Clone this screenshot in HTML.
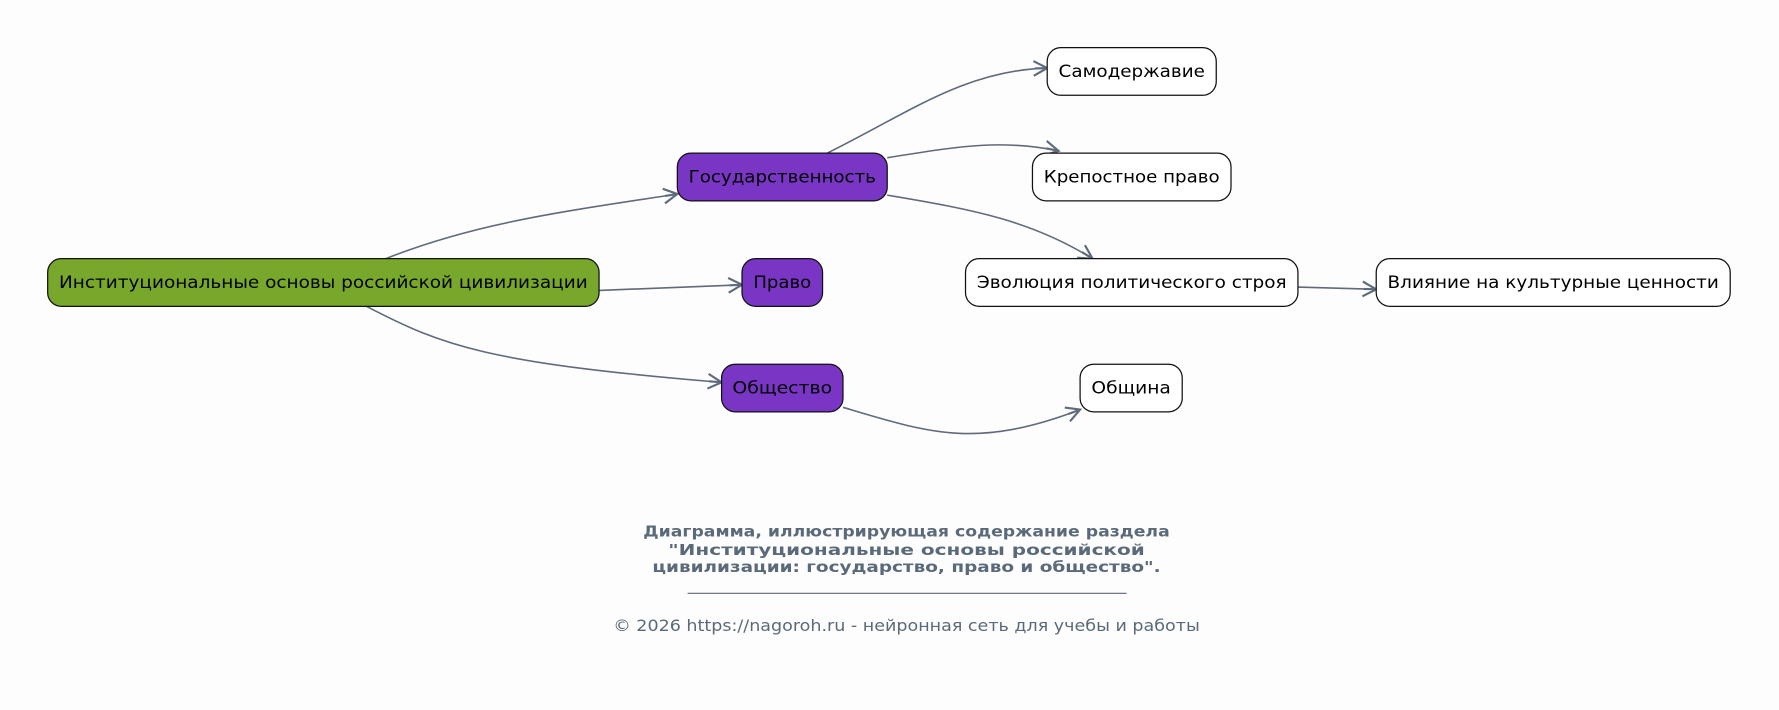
<!DOCTYPE html>
<html><head><meta charset="utf-8"><style>
html,body{margin:0;padding:0;background:#fdfdfd;}
svg{display:block;}
text{font-family:"DejaVu Sans","Liberation Sans",sans-serif;}
</style></head><body>
<svg width="1779" height="710" viewBox="0 0 1568 625.8" xmlns="http://www.w3.org/2000/svg">
<defs>
<marker id="a" markerWidth="18" markerHeight="16" refX="14" refY="8" orient="auto" markerUnits="userSpaceOnUse">
<polyline points="2,1.5 14,8 2,14.5" fill="none" stroke="#5f6b7a" stroke-width="1.9"/>
<line x1="3" y1="8" x2="14" y2="8" stroke="#5f6b7a" stroke-width="1.9"/>
</marker>
</defs>
<rect width="1568" height="626" fill="#fdfdfd"/>
<g fill="none" stroke="#5f6b7a" stroke-width="1.4" marker-end="url(#a)">
<path d="M340,228 C420,196 500,186 597,171"/>
<path d="M528,256 L654,251"/>
<path d="M323,270 C390,305 430,320 636,337"/>
<path d="M729,135 C800,100 850,62 923,60"/>
<path d="M782,139 C840,130 880,122 933,133"/>
<path d="M782,172 C860,185 910,195 963,228"/>
<path d="M1144,253 L1213,255"/>
<path d="M743,359 C820,382 860,396 952,361"/>
</g>
<g stroke="#111" stroke-width="1.1">
<rect x="42" y="228" width="486" height="42" rx="12" fill="#77a82b"/>
<rect x="597" y="135" width="185" height="42" rx="12" fill="#7935c3"/>
<rect x="654" y="228" width="71" height="42" rx="12" fill="#7935c3"/>
<rect x="636" y="321" width="107" height="42" rx="12" fill="#7935c3"/>
<rect x="923" y="42" width="149" height="42" rx="12" fill="#fff"/>
<rect x="910" y="135" width="175" height="42" rx="12" fill="#fff"/>
<rect x="851" y="228" width="293" height="42" rx="12" fill="#fff"/>
<rect x="1213" y="228" width="312" height="42" rx="12" fill="#fff"/>
<rect x="952" y="321" width="90" height="42" rx="12" fill="#fff"/>
</g>
<g font-size="15" fill="#000" text-anchor="middle">
<text x="285" y="254" textLength="466" lengthAdjust="spacingAndGlyphs">Институциональные основы российской цивилизации</text>
<text x="689.5" y="161" textLength="165" lengthAdjust="spacingAndGlyphs">Государственность</text>
<text x="689.5" y="254" textLength="51" lengthAdjust="spacingAndGlyphs">Право</text>
<text x="689.5" y="347" textLength="88" lengthAdjust="spacingAndGlyphs">Общество</text>
<text x="997.5" y="68" textLength="129" lengthAdjust="spacingAndGlyphs">Самодержавие</text>
<text x="997.5" y="161" textLength="155" lengthAdjust="spacingAndGlyphs">Крепостное право</text>
<text x="997.5" y="254" textLength="273" lengthAdjust="spacingAndGlyphs">Эволюция политического строя</text>
<text x="1369" y="254" textLength="292" lengthAdjust="spacingAndGlyphs">Влияние на культурные ценности</text>
<text x="997" y="347" textLength="70" lengthAdjust="spacingAndGlyphs">Община</text>
</g>
<g fill="#5a6a7a" text-anchor="middle">
<text x="799" y="473" font-size="13.5" font-weight="bold" textLength="464" lengthAdjust="spacingAndGlyphs">Диаграмма, иллюстрирующая содержание раздела</text>
<text x="799" y="489" font-size="13.5" font-weight="bold" textLength="420" lengthAdjust="spacingAndGlyphs">"Институциональные основы российской</text>
<text x="799" y="504" font-size="13.5" font-weight="bold" textLength="448" lengthAdjust="spacingAndGlyphs">цивилизации: государство, право и общество".</text>
<text x="799" y="556" font-size="14" textLength="517" lengthAdjust="spacingAndGlyphs">© 2026 https://nagoroh.ru - нейронная сеть для учебы и работы</text>
</g>
<line x1="606" y1="523" x2="993" y2="523" stroke="#5a6a7a" stroke-width="1"/>
</svg>
</body></html>
